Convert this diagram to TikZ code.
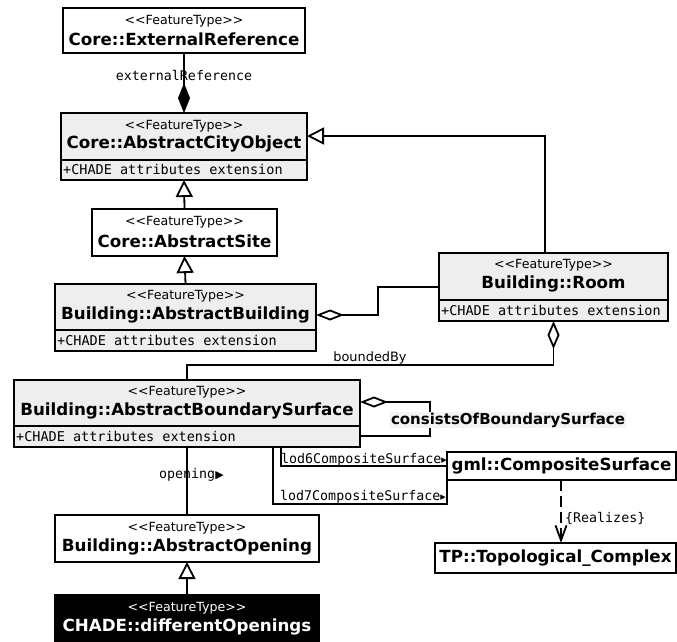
\documentclass[tikz,border=0pt]{standalone}
\usepackage{fontspec}
\setmainfont{DejaVu Sans}
\setmonofont{DejaVu Sans Mono}
\usetikzlibrary{arrows.meta,calc}
\definecolor{boxgray}{HTML}{EEEEEE}
\definecolor{lblgray}{HTML}{F3F3F3}
\newcommand\ftype{<\kern0pt<FeatureType>\kern0pt>}
\begin{document}
\begin{tikzpicture}[x=1pt,y=-1pt,
  cls/.style={draw,line width=1.8pt,anchor=north west,inner sep=0pt,outer sep=0pt},
  gcls/.style={cls,fill=boxgray},
  stereo/.style={font=\fontsize{12.6}{14}\selectfont,inner sep=0pt},
  cname/.style={font=\fontsize{16.7}{20}\selectfont\bfseries,inner sep=0pt},
  attr/.style={font=\ttfamily\fontsize{13.5}{16}\selectfont,anchor=west,inner sep=0pt},
  lbl/.style={font=\ttfamily\fontsize{13.3}{16}\selectfont,inner sep=0pt},
  conn/.style={line width=1.8pt},
  gen/.style={conn,-{Triangle[open,length=17pt,width=17pt]}},
  agg/.style={conn,{Diamond[open,length=28pt,width=11pt]}-},
]
\useasboundingbox[fill=white] (0,0) rectangle (677,641);

% classes
\node[cls,minimum width=242pt,minimum height=45pt] (ext) at (63,8) {};
\node[stereo] (ext-s) at ([yshift=-13pt]ext.north) {\ftype};
\node[cname] (ext-n) at ([yshift=-31pt]ext.north) {Core::ExternalReference};

\node[gcls,minimum width=246pt,minimum height=67pt] (aco) at (61,113) {};
\node[stereo] (aco-s) at ([yshift=-13pt]aco.north) {\ftype};
\node[cname] (aco-n) at ([yshift=-31pt]aco.north) {Core::AbstractCityObject};
\draw[line width=1.5pt] ([yshift=20pt]aco.south west) -- ([yshift=20pt]aco.south east);
\node[attr] (aco-a) at ([xshift=2pt,yshift=10.5pt]aco.south west) {+CHADE attributes extension};

\node[cls,minimum width=185pt,minimum height=47pt] (site) at (92,209) {};
\node[stereo] (site-s) at ([yshift=-13pt]site.north) {\ftype};
\node[cname] (site-n) at ([yshift=-32pt]site.north) {Core::AbstractSite};

\node[gcls,minimum width=261pt,minimum height=67pt] (ab) at (55,284) {};
\node[stereo] (ab-s) at ([yshift=-12pt]ab.north) {\ftype};
\node[cname] (ab-n) at ([yshift=-31pt]ab.north) {Building::AbstractBuilding};
\draw[line width=1.5pt] ([yshift=21pt]ab.south west) -- ([yshift=21pt]ab.south east);
\node[attr] (ab-a) at ([xshift=2pt,yshift=11pt]ab.south west) {+CHADE attributes extension};

\node[gcls,minimum width=229pt,minimum height=68pt] (room) at (439,253) {};
\node[stereo] (room-s) at ([yshift=-12pt]room.north) {\ftype};
\node[cname] (room-n) at ([yshift=-31pt]room.north) {Building::Room};
\draw[line width=1.5pt] ([yshift=21pt]room.south west) -- ([yshift=21pt]room.south east);
\node[attr] (room-a) at ([xshift=2pt,yshift=11pt]room.south west) {+CHADE attributes extension};

\node[gcls,minimum width=346pt,minimum height=67pt] (abs) at (14,380) {};
\node[stereo] (abs-s) at ([yshift=-12pt]abs.north) {\ftype};
\node[cname] (abs-n) at ([yshift=-31pt]abs.north) {Building::AbstractBoundarySurface};
\draw[line width=1.5pt] ([yshift=21pt]abs.south west) -- ([yshift=21pt]abs.south east);
\node[attr] (abs-a) at ([xshift=2pt,yshift=10.5pt]abs.south west) {+CHADE attributes extension};

\node[cls,minimum width=264pt,minimum height=47pt] (ao) at (55,515) {};
\node[stereo] (ao-s) at ([yshift=-13pt]ao.north) {\ftype};
\node[cname] (ao-n) at ([yshift=-32pt]ao.north) {Building::AbstractOpening};

\node[cls,fill=black,minimum width=264pt,minimum height=50pt] (chade) at (55,595) {};
\node[stereo,text=white] (chade-s) at ([yshift=-13pt]chade.north) {\ftype};
\node[cname,text=white] (chade-n) at ([yshift=-32pt]chade.north) {CHADE::differentOpenings};

\node[cls,minimum width=229pt,minimum height=28pt] (cs) at (447,452) {};
\node[cname] (cs-n) at (cs.center) {gml::CompositeSurface};

\node[cls,minimum width=241pt,minimum height=30pt] (tp) at (435,543) {};
\node[cname] (tp-n) at (tp.center) {TP::Topological\_Complex};

% connectors
\draw[conn,-{Diamond[length=30pt,width=12pt]}] (ext.south) -- (aco.north);
\node[lbl] (l-ext) at (184,76) {externalReference};

\draw[gen] (site.north) -- (aco.south);
\draw[gen] (ab.north) -- (site.south);
\draw[gen] ([xshift=-8.5pt]room.north) |- ([yshift=10.5pt]aco.east);

\draw[agg] ([yshift=2.5pt]ab.east) -- ++(62,0) |- (room.west);

\draw[conn,{Diamond[open,length=28pt,width=12pt]}-] (room.south) -- ++(0,44) -| (abs.north);
\node[font=\fontsize{12.9}{15}\selectfont,inner sep=0pt] (l-bb) at (370,358) {boundedBy};

\draw[conn,-{Diamond[open,length=28pt,width=11pt]}] ([yshift=-22.5pt]abs.east) -- ++(70,0) |- ([yshift=11.5pt]abs.east);
\node[font=\fontsize{15}{18}\selectfont\bfseries,fill=lblgray,inner sep=1pt] (l-cons) at (508,420) {consistsOfBoundarySurface};

\draw[conn] (abs.south) -- (ao.north);
\node[lbl,anchor=west] (l-op) at (159,475) {opening{\rmfamily\fontsize{11}{13}\selectfont ▶}};

\draw[gen] (chade.north) -- (ao.south);

\draw[conn] ([xshift=94pt]abs.south) |- (cs.west);
\node[lbl,anchor=west] (l-lod6) at (281,460) {lod6CompositeSurface{\rmfamily\fontsize{11}{13}\selectfont ▸}};

\draw[conn] ([xshift=86pt]abs.south) |- ([yshift=-24pt]cs.south west) -- (cs.south west);
\node[lbl,anchor=west] (l-lod7) at (280,497) {lod7CompositeSurface{\rmfamily\fontsize{11}{13}\selectfont ▸}};

\coordinate (rz) at ([xshift=114pt]cs.south west);
\draw[conn,dash pattern=on 11pt off 5pt,-{Straight Barb[length=15pt,width=11pt]}] (rz) -- (rz |- tp.north);
\node[lbl,anchor=west] (l-rz) at (565,518) {\{Realizes\}};
\end{tikzpicture}
\end{document}
